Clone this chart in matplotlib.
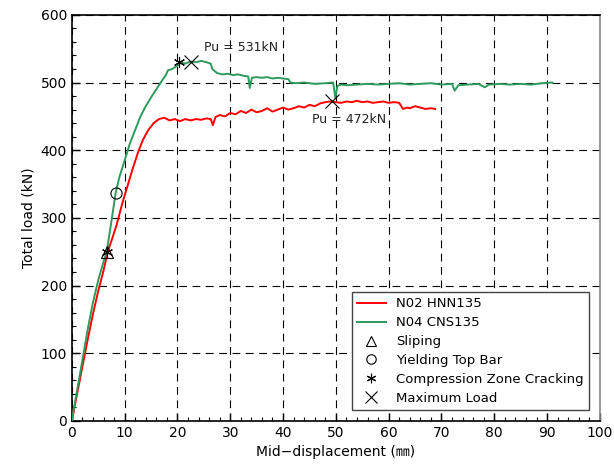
import matplotlib
matplotlib.use("Agg")
import matplotlib.pyplot as plt
from matplotlib.ticker import MultipleLocator

plt.rcParams['font.family'] = ['DejaVu Sans', 'Noto Sans CJK JP']

# N02 HNN135 (red)
red_x = [0, 1, 2, 3, 4, 5, 6, 6.8, 7.5, 8.5, 9.5, 10.5, 11.5, 12.5, 13.5, 14.5, 15.5, 16.5,
         17.5, 18.5, 19.5, 20.5, 21.5, 22.5, 23.5, 24.5, 25.5, 26.3, 26.7, 27.2, 28, 29, 30,
         31, 32, 33, 34, 35, 36, 37, 38, 39, 40, 41, 42, 43, 44, 45, 46, 47, 48, 49, 50,
         51, 52, 53, 54, 55, 56, 57, 58, 59, 60, 61, 62, 62.7, 63.5, 64, 65, 66, 67, 68, 68.8]
red_y = [0, 40, 80, 120, 158, 192, 222, 250, 266, 290, 320, 346, 372, 396, 416, 430, 440, 446,
         448, 444, 446, 443, 446, 444, 446, 445, 447, 446, 437, 449, 452, 450, 455, 453, 458,
         455, 460, 456, 458, 462, 457, 460, 463, 460, 462, 465, 463, 467, 465, 469, 471, 472,
         471, 470, 472, 471, 473, 471, 472, 470, 471, 472, 470, 471, 470, 461, 463, 462, 465,
         463, 461, 462, 461]

# N04 CNS135 (green)
green_x = [0, 1, 2, 3, 4, 5, 6, 6.6, 7.5, 8.3, 9, 10, 11, 12, 13, 14, 15, 16, 17, 17.8, 18.2,
           19, 20, 20.6, 21.5, 22.5, 23.5, 24.5, 25.5, 26.3, 26.6, 27.5, 28.5, 29.5, 30.5,
           31.5, 32.5, 33.4, 33.7, 34.1, 35, 36, 37, 38, 39, 40, 41, 41.4, 42.5, 44, 46, 48,
           49.5, 49.9, 50.3, 51, 52, 54, 56, 58, 60, 62, 64, 66, 68, 70, 72, 72.5, 73.2, 75,
           77, 78.2, 79, 81, 83, 85, 87, 89, 91]
green_y = [0, 45, 90, 135, 175, 208, 235, 250, 295, 337, 360, 385, 410, 430, 450, 465, 478,
           490, 502, 511, 518, 520, 525, 530, 528, 531, 530, 532, 530, 528, 520, 514, 512, 513,
           511, 512, 510, 509, 492, 507, 508, 507, 508, 506, 507, 506, 505, 500, 499, 500,
           498, 499, 500, 477, 495, 497, 496, 497, 498, 497, 498, 499, 497, 498, 499, 497, 498,
           488, 496, 497, 498, 493, 497, 498, 497, 498, 497, 499, 500]

# event markers
slip_x, slip_y = [6.7], [250]
yield_x, yield_y = [8.3], [337]
ccrack_x, ccrack_y = [6.7, 20.3], [250, 530]
maxl_x, maxl_y = [22.5, 49.3], [531, 472]

fig = plt.figure(figsize=(6.14, 4.65), dpi=100)
ax = fig.add_axes([0.117, 0.095, 0.860, 0.873])

red_c = '#ff0000'
green_c = '#2e9a5c'
ax.plot(red_x, red_y, color=red_c, lw=1.4, label='N02 HNN135', zorder=3)
ax.plot(green_x, green_y, color=green_c, lw=1.4, label='N04 CNS135', zorder=3)

mk = dict(ls='none', mfc='none', mec='black', color='black', mew=0.8, ms=8, zorder=4)
ax.plot(slip_x, slip_y, marker='^', label='Sliping', **mk)
ax.plot(yield_x, yield_y, marker='o', label='Yielding Top Bar', **mk)
ax.plot(ccrack_x, ccrack_y, marker=(6, 2, 0), label='Compression Zone Cracking', **mk)
ax.plot(maxl_x, maxl_y, marker='x', label='Maximum Load', **dict(mk, ms=10))

ax.text(25.0, 547, 'Pu = 531kN', fontsize=9, color='#222222')
ax.text(45.5, 440, 'Pu = 472kN', fontsize=9, color='#222222')

ax.set_xlim(0, 100)
ax.set_ylim(0, 600)
ax.xaxis.set_major_locator(MultipleLocator(10))
ax.xaxis.set_minor_locator(MultipleLocator(2))
ax.yaxis.set_major_locator(MultipleLocator(100))
ax.yaxis.set_minor_locator(MultipleLocator(20))
ax.tick_params(which='both', direction='in', labelsize=10)
ax.tick_params(which='major', length=6, width=1)
ax.tick_params(which='minor', length=3, width=0.8)
ax.grid(True, which='major', color='black', ls=(0, (7, 5)), lw=0.8)
for s in ax.spines.values():
    s.set_linewidth(1.2)
ax.spines['right'].set_color('#888888')

ax.set_xlabel('Mid\u2212displacement (\u339c)', fontsize=10)
ax.set_ylabel('Total load (kN)', fontsize=10)

leg = ax.legend(loc='lower right', fontsize=9.5, frameon=True, fancybox=False,
                framealpha=1, edgecolor='#444444', handlelength=2.2, markerscale=0.85,
                borderaxespad=0.8, labelspacing=0.45)
leg.get_frame().set_linewidth(1.0)

fig.savefig('out.png', dpi=100)
